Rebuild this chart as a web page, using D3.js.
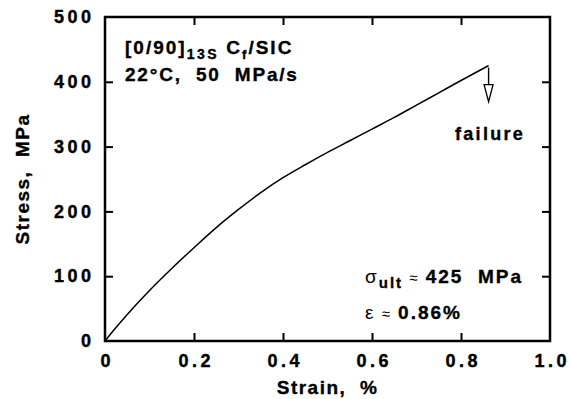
<!DOCTYPE html>
<html lang="en">
<head>
<meta charset="utf-8">
<title>Stress-strain</title>
<style>
    body { margin: 0; background: #fff; }
    svg { display: block; font-family: "Liberation Sans", Arial, sans-serif; }
    .tick text { font-size: 18px; font-weight: bold; letter-spacing: 3.5px; fill: #000; stroke: #000; stroke-width: 0.4px; }
    .tick line { stroke: #000; stroke-width: 2; }
    .lbl { font-weight: bold; fill: #000; white-space: pre; stroke: #000; stroke-width: 0.35px; }
</style>
</head>
<body>
<svg id="chart" width="571" height="399"></svg>
<script src="https://cdn.jsdelivr.net/npm/d3@7"></script>
<script>
// data
var strain = [0, 0.02, 0.05, 0.10, 0.15, 0.20, 0.25, 0.30, 0.35, 0.40, 0.45, 0.50, 0.55, 0.60, 0.65, 0.70, 0.75, 0.80, 0.862];
var stress = [0, 17, 41, 78, 112, 144, 175, 203, 229, 252, 272, 291, 309, 327, 345, 364, 383, 402, 425];
var xTicks = [0, 0.2, 0.4, 0.6, 0.8, 1.0];
var yTicks = [0, 100, 200, 300, 400, 500];

var svg = d3.select('#chart');
var pad = {left: 105, right: 550, top: 17, bottom: 341};

var x = d3.scaleLinear().domain([0, 1]).range([pad.left, pad.right]);
var y = d3.scaleLinear().domain([0, 500]).range([pad.bottom, pad.top]);

// bottom axis
var gx = svg.append('g').attr('transform', 'translate(0,' + pad.bottom + ')')
    .call(d3.axisBottom(x).tickValues(xTicks)
        .tickFormat(function(d) { return d === 0 ? '0' : d3.format('.1f')(d); })
        .tickSizeInner(-8).tickSizeOuter(0).tickPadding(13));
gx.select('.domain').remove();
gx.selectAll('.tick text').attr('dy', '0.71em').attr('dx', 1.75);
gx.selectAll('.tick').filter(function(d) { return d === 0 || d === 1; }).select('line').remove();

// left axis
var gy = svg.append('g').attr('transform', 'translate(' + pad.left + ',0)')
    .call(d3.axisLeft(y).tickValues(yTicks).tickSizeInner(-8).tickSizeOuter(0).tickPadding(10.5));
gy.select('.domain').remove();
gy.selectAll('.tick').filter(function(d) { return d === 0 || d === 500; }).select('line').remove();

// top and right: ticks only
var gt = svg.append('g').attr('transform', 'translate(0,' + pad.top + ')')
    .call(d3.axisTop(x).tickValues(xTicks.slice(1, -1)).tickFormat('').tickSizeInner(-8).tickSizeOuter(0));
gt.select('.domain').remove();
var gr = svg.append('g').attr('transform', 'translate(' + pad.right + ',0)')
    .call(d3.axisRight(y).tickValues(yTicks.slice(1, -1)).tickFormat('').tickSizeInner(-8).tickSizeOuter(0));
gr.select('.domain').remove();

// frame
svg.append('rect')
    .attr('x', pad.left).attr('y', pad.top)
    .attr('width', pad.right - pad.left).attr('height', pad.bottom - pad.top)
    .attr('fill', 'none').attr('stroke', '#000').attr('stroke-width', 2.5);

// curve
var pts = strain.map(function(s, i) { return [s, stress[i]]; });
var line = d3.line().x(function(d) { return x(d[0]); }).y(function(d) { return y(d[1]); })
    .curve(d3.curveMonotoneX);
svg.append('path').datum(pts)
    .attr('d', line)
    .attr('fill', 'none').attr('stroke', '#000').attr('stroke-width', 1.5);

// failure arrow
var fx = x(strain[strain.length - 1]), fy = y(stress[stress.length - 1]);
svg.append('line')
    .attr('x1', fx).attr('y1', fy + 2).attr('x2', fx).attr('y2', fy + 20)
    .attr('stroke', '#000').attr('stroke-width', 1.4);
svg.append('path')
    .attr('d', 'M' + (fx - 4.5) + ',' + (fy + 19) + 'L' + (fx + 4.5) + ',' + (fy + 19) + 'L' + fx + ',' + (fy + 36) + 'Z')
    .attr('fill', '#fff').attr('stroke', '#000').attr('stroke-width', 1.3);
svg.append('text').attr('class', 'lbl')
    .attr('x', 455).attr('y', 140)
    .style('font-size', '18px').style('letter-spacing', '2.3px')
    .text('failure');

// axis titles
svg.append('text').attr('class', 'lbl')
    .attr('x', (pad.left + pad.right) / 2).attr('y', 394)
    .attr('text-anchor', 'middle')
    .style('font-size', '19px').style('letter-spacing', '1.5px')
    .text('Strain,  %');
svg.append('text').attr('class', 'lbl')
    .attr('transform', 'translate(29,' + ((pad.top + pad.bottom) / 2) + ') rotate(-90)')
    .attr('text-anchor', 'middle')
    .style('font-size', '19px').style('letter-spacing', '1.5px')
    .text('Stress,  MPa');

// specimen label
var t1 = svg.append('text').attr('class', 'lbl')
    .attr('x', 125).attr('y', 54)
    .style('font-size', '19px').style('letter-spacing', '2px');
t1.append('tspan').text('[0/90]');
t1.append('tspan').attr('dy', 5).style('font-size', '14px').style('letter-spacing', '2.5px').text('13S');
t1.append('tspan').attr('dy', -5).text(' C');
t1.append('tspan').attr('dy', 5).style('font-size', '13px').text('f');
t1.append('tspan').attr('dy', -5).text('/SIC');

svg.append('text').attr('class', 'lbl')
    .attr('x', 125).attr('y', 81)
    .style('font-size', '19px').style('letter-spacing', '1.8px')
    .text('22\u00b0C,  50  MPa/s');

// ultimate values
var t2 = svg.append('text').attr('class', 'lbl')
    .attr('x', 365).attr('y', 283)
    .style('font-size', '19px').style('letter-spacing', '2px');
t2.append('tspan').style('font-weight', 'normal').style('stroke-width', 0).text('\u03c3');
t2.append('tspan').attr('dy', 5).style('font-size', '15px').style('letter-spacing', '2px').text('ult');
t2.append('tspan').attr('dy', -5).style('font-weight', 'normal').style('stroke-width', 0).style('font-size', '15px').text(' \u2248 ');
t2.append('tspan').text('425  MPa');

var t3 = svg.append('text').attr('class', 'lbl')
    .attr('x', 365).attr('y', 319)
    .style('font-size', '19px').style('letter-spacing', '2px');
t3.append('tspan').style('font-weight', 'normal').style('stroke-width', 0).text('\u03b5');
t3.append('tspan').style('font-weight', 'normal').style('stroke-width', 0).style('font-size', '15px').text(' \u2248 ');
t3.append('tspan').text('0.86%');
</script>
</body>
</html>
